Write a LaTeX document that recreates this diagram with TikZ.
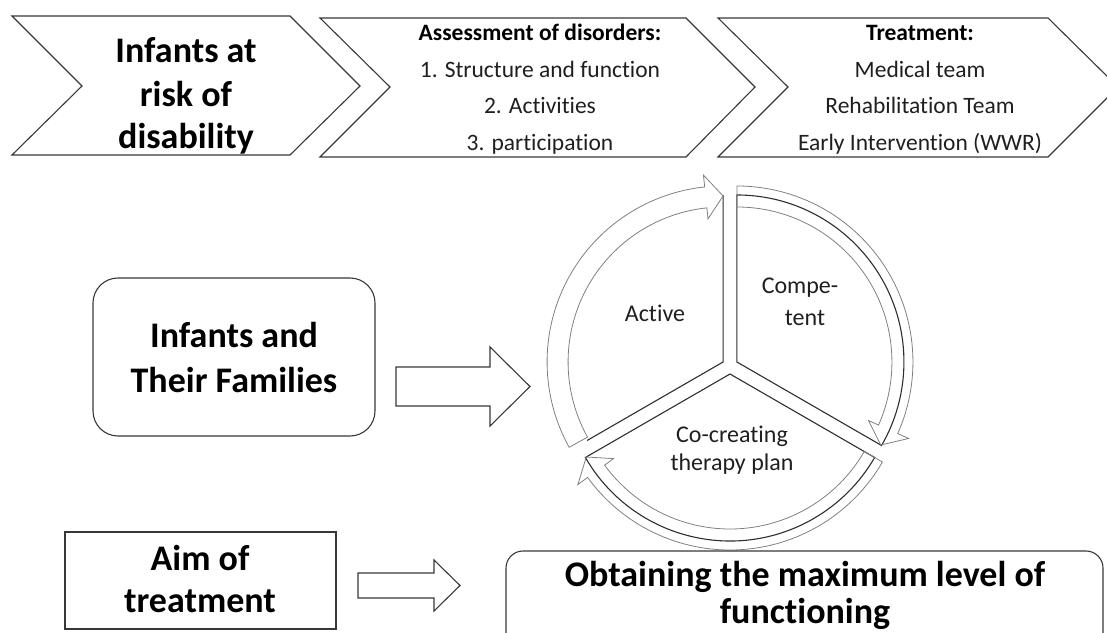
\documentclass[tikz,border=0pt]{standalone}
\usepackage{fontspec}
\setmainfont{Carlito}[Ligatures={NoCommon}]
\begin{document}
\begin{tikzpicture}[x=1pt,y=1pt,
  shapeline/.style={draw=black!78, line width=1.1pt, line join=miter},
  segline/.style={draw=black!82, line width=1.1pt},
  rimarrow/.style={draw=black!50, line width=0.8pt},
  txtbig/.style={font=\fontsize{36}{43}\selectfont\bfseries, inner sep=0pt, anchor=base, text=black},
  txtsmall/.style={font=\fontsize{23.5}{28}\selectfont, inner sep=0pt, anchor=base, text=black!88},
  txthead/.style={font=\fontsize{23.5}{28}\selectfont\bfseries, inner sep=0pt, anchor=base, text=black},
  txtcyc/.style={font=\fontsize{24}{29}\selectfont, inner sep=0pt, anchor=base, text=black!88},
  boxline/.style={draw=black!78, line width=1.1pt, inner sep=0pt}
]
\useasboundingbox (0,0) rectangle (1107,632);
\begin{scope}
\clip (0,0) rectangle (1107,632);
% ---------- top chevrons ----------
\draw[shapeline] (12,616) -- (290,616) -- (360,546) -- (290,477) -- (12,477) -- (82,546) -- cycle;
\draw[shapeline] (320,614) -- (686,614) -- (755,545) -- (686,475) -- (320,475) -- (390,545) -- cycle;
\draw[shapeline] (718,614) -- (1048,614) -- (1118,545) -- (1048,475) -- (718,475) -- (788,545) -- cycle;

\node[txtbig] (c1a) at (186,569) {Infants at};
\node[txtbig] (c1b) at (186,525) {risk of};
\node[txtbig] (c1c) at (186,483) {disability};

\node[txthead] (c2a) at (540,591) {Assessment of disorders:};
\node[txtsmall] (c2b) at (540,554.5) {1. Structure and function};
\node[txtsmall] (c2c) at (540,518) {2. Activities};
\node[txtsmall] (c2d) at (540,481.5) {3. participation};

\node[txthead] (c3a) at (920,591) {Treatment:};
\node[txtsmall] (c3b) at (920,554.5) {Medical team};
\node[txtsmall] (c3c) at (920,518) {Rehabilitation Team};
\node[txtsmall] (c3d) at (920,481.5) {Early Intervention (WWR)};

% ---------- segmented cycle ----------
\coordinate (cc) at (730,266);
\coordinate (pl) at (723.07,270);
\coordinate (pr) at (736.93,270);
\coordinate (pb) at (730,258);

\draw[segline] ([shift={(90:167)}]pl) -- (pl) -- ([shift={(210:157)}]pl);
\draw[segline] (pr) -- ([shift={(90:167)}]pr) arc[start angle=90,end angle=-30,radius=167] -- cycle;
\draw[segline] (pb) -- ([shift={(210:167)}]pb) arc[start angle=210,end angle=330,radius=167] -- cycle;

\draw[rimarrow] ([shift={(209:176)}]pl) arc[start angle=209,end angle=96,radius=176]
  -- ([shift={(96:188)}]pl) -- ([shift={(90:166)}]pl) -- ([shift={(96:144)}]pl)
  -- ([shift={(96:155)}]pl) arc[start angle=96,end angle=209,radius=155] -- cycle;
\draw[rimarrow] ([shift={(90:176)}]pr) arc[start angle=90,end angle=-24,radius=176]
  -- ([shift={(-24:188)}]pr) -- ([shift={(-30:166)}]pr) -- ([shift={(-24:144)}]pr)
  -- ([shift={(-24:155)}]pr) arc[start angle=-24,end angle=90,radius=155] -- cycle;
\draw[rimarrow] ([shift={(330:176)}]pb) arc[start angle=330,end angle=216,radius=176]
  -- ([shift={(216:188)}]pb) -- ([shift={(210:166)}]pb) -- ([shift={(216:144)}]pb)
  -- ([shift={(216:155)}]pb) arc[start angle=216,end angle=330,radius=155] -- cycle;

\node[txtcyc] (act) at (655,310) {Active};
\node[txtcyc] (comp1) at (800,338) {Compe-};
\node[txtcyc] (comp2) at (805,306) {tent};
\node[txtcyc] (co1) at (732,190) {Co-creating};
\node[txtcyc] (co2) at (732,162) {therapy plan};

% ---------- middle row ----------
\node[boxline, rounded corners=25pt, minimum width=282pt, minimum height=158pt] (fam) at (234,275) {};
\node[txtbig] (fama) at (234,284) {Infants and};
\node[txtbig] (famb) at (234,240) {Their Families};
\draw[shapeline] (396,265) -- (490,265) -- (490,285) -- (530,245.5) -- (490,206) -- (490,226) -- (396,226) -- cycle;

% ---------- bottom row ----------
\node[boxline, minimum width=271pt, minimum height=97pt] (aim) at (200.5,51.5) {};
\node[txtbig] (aima) at (200,62) {Aim of};
\node[txtbig] (aimb) at (200,20) {treatment};
\draw[shapeline] (358,59) -- (434,59) -- (434,72) -- (460,46.5) -- (434,21) -- (434,34) -- (358,34) -- cycle;
\node[boxline, rounded corners=17pt, minimum width=597pt, minimum height=101pt] (obt) at (804.5,30.5) {};
\node[txtbig] (obta) at (805,46) {Obtaining the maximum level of};
\node[txtbig] (obtb) at (805,8.5) {functioning};
\end{scope}
\end{tikzpicture}
\end{document}
